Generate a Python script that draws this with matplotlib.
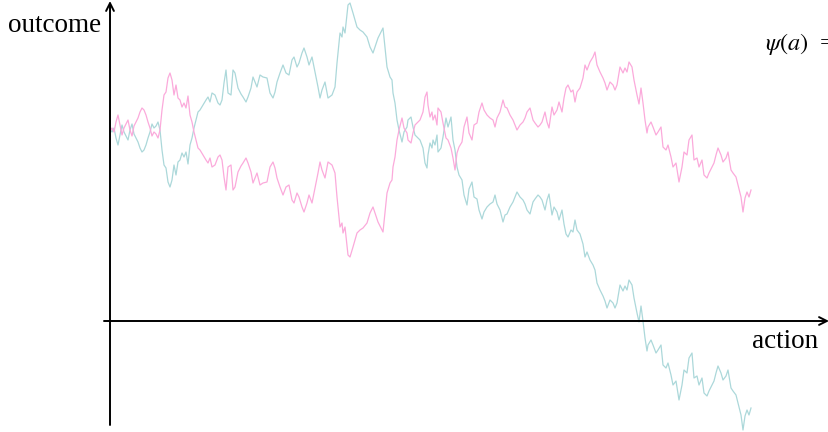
import matplotlib.pyplot as plt

plt.rcParams['font.family'] = ['Liberation Serif', 'DejaVu Serif']
plt.rcParams['mathtext.fontset'] = 'stix'

# action grid shared by both paths
action = [
    0, 2, 4, 6, 8, 10, 12, 14, 16, 18, 20, 22, 24, 26, 28, 30, 32, 34, 36, 38,
    40, 42, 44, 46, 48, 50, 52, 54, 56, 58, 60, 62, 64, 66, 68, 70, 72, 74, 76, 78,
    80, 82, 84, 86, 88, 90, 93, 96, 98, 100, 102, 105, 108, 110, 112, 114, 116, 118, 121, 123,
    125, 128, 131, 133, 136, 138, 141, 143, 147, 150, 153, 157, 160, 163, 165, 167, 170, 173, 176, 179,
    182, 184, 187, 189, 192, 194, 197, 199, 202, 205, 208, 210, 212, 215, 218, 222, 225, 227, 230, 232,
    233, 235, 238, 240, 243, 247, 250, 253, 257, 260, 263, 265, 268, 272, 273, 275, 277, 280, 282, 283,
    285, 287, 289, 292, 294, 297, 298, 301, 303, 305, 307, 310, 313, 315, 317, 318, 320, 322, 323, 325,
    327, 328, 331, 333, 336, 338, 341, 343, 345, 347, 349, 352, 354, 357, 359, 362, 364, 367, 369, 372,
    374, 377, 380, 383, 385, 387, 390, 393, 395, 397, 400, 403, 405, 407, 410, 413, 415, 417, 420, 423,
    425, 428, 430, 432, 435, 437, 439, 442, 444, 447, 449, 452, 454, 456, 458, 461, 463, 465, 467, 470,
    473, 475, 477, 480, 483, 485, 487, 490, 493, 495, 497, 500, 503, 505, 507, 510, 513, 515, 517, 519,
    522, 524, 527, 529, 531, 533, 535, 537, 538, 541, 543, 546, 548, 551, 553, 556, 558, 561, 563, 566,
    569, 572, 574, 577, 579, 582, 584, 587, 589, 592, 594, 597, 599, 602, 604, 606, 608, 611, 613, 616,
    618, 621, 623, 626, 628, 631, 633, 635, 637, 639, 641,
]

outcome_pink = [
    190, 193, 189, 199, 206, 196, 186, 193, 197, 201, 191, 185, 195, 199, 203, 209, 213, 211, 206, 199,
    193, 185, 189, 187, 183, 191, 211, 226, 229, 243, 248, 241, 226, 236, 223, 221, 214, 218, 213, 225,
    206, 199, 189, 181, 173, 171, 166, 161, 158, 163, 154, 156, 164, 166, 161, 144, 131, 154, 156, 131,
    134, 149, 155, 158, 163, 158, 149, 138, 148, 136, 138, 139, 154, 159, 153, 143, 134, 126, 134, 136,
    121, 118, 128, 124, 114, 109, 118, 126, 118, 133, 148, 159, 151, 143, 159, 156, 148, 124, 94, 98,
    88, 94, 66, 64, 74, 88, 91, 93, 98, 108, 114, 108, 99, 91, 89, 108, 128, 138, 141, 154,
    164, 181, 191, 203, 193, 188, 181, 178, 188, 196, 198, 201, 209, 224, 229, 216, 204, 209, 201, 206,
    196, 213, 209, 198, 183, 181, 173, 163, 151, 168, 174, 179, 194, 204, 188, 181, 196, 198, 209, 218,
    211, 206, 203, 201, 194, 203, 209, 221, 214, 213, 206, 201, 196, 191, 196, 199, 203, 209, 213, 201,
    198, 194, 196, 199, 209, 199, 193, 214, 206, 211, 219, 209, 223, 233, 236, 229, 231, 219, 229, 233,
    243, 256, 251, 259, 264, 269, 256, 249, 243, 238, 231, 239, 236, 231, 236, 254, 248, 253, 249, 259,
    254, 241, 226, 217, 233, 218, 201, 188, 194, 199, 194, 186, 189, 194, 174, 171, 176, 164, 154, 158,
    139, 154, 169, 166, 181, 186, 161, 163, 154, 161, 146, 143, 148, 154, 158, 166, 173, 166, 159, 163,
    169, 151, 148, 144, 136, 124, 109, 123, 129, 124, 131,
]

outcome_teal = [
    192, 189, 193, 183, 176, 186, 196, 189, 185, 181, 191, 197, 187, 183, 179, 173, 169, 171, 176, 183,
    189, 197, 193, 195, 199, 191, 171, 156, 153, 139, 134, 141, 156, 146, 159, 161, 168, 164, 169, 157,
    176, 183, 193, 201, 209, 211, 216, 221, 224, 219, 228, 226, 218, 216, 221, 238, 251, 228, 226, 251,
    248, 233, 227, 224, 219, 224, 233, 244, 234, 246, 244, 243, 228, 223, 229, 239, 248, 256, 248, 246,
    261, 264, 254, 258, 268, 273, 264, 256, 264, 249, 234, 223, 231, 239, 223, 226, 234, 258, 288, 284,
    294, 288, 316, 318, 308, 294, 291, 289, 284, 274, 268, 274, 283, 291, 293, 274, 254, 244, 241, 228,
    218, 201, 191, 179, 189, 194, 201, 204, 194, 186, 184, 181, 173, 158, 153, 166, 178, 173, 181, 176,
    186, 169, 173, 184, 203, 194, 204, 181, 171, 154, 146, 141, 126, 116, 132, 139, 124, 122, 111, 102,
    109, 114, 117, 119, 126, 117, 111, 99, 106, 107, 114, 119, 124, 129, 124, 121, 117, 111, 107, 119,
    122, 126, 124, 121, 111, 121, 127, 106, 114, 109, 101, 111, 97, 87, 84, 91, 89, 101, 91, 87,
    77, 64, 69, 61, 56, 51, 38, 31, 25, 20, 13, 21, 18, 13, 18, 36, 30, 35, 31, 41,
    36, 23, 8, -1, 15, 0, -17, -30, -24, -19, -24, -32, -29, -24, -44, -47, -42, -54, -64, -60,
    -79, -64, -49, -52, -37, -32, -57, -55, -64, -57, -72, -75, -70, -64, -60, -52, -45, -52, -59, -55,
    -49, -67, -70, -74, -82, -94, -109, -95, -89, -94, -87,
]

fig = plt.figure(figsize=(8.29, 4.32), dpi=100)
ax = fig.add_axes([0, 0, 1, 1])
ax.set_xlim(-110, 719)
ax.set_ylim(-111, 321)
ax.axis('off')

ax.plot(action, outcome_teal, color='#acd8da', lw=0.9)
ax.plot(action, outcome_pink, color='#fbaadb', lw=0.9)

# axes with arrow heads
arrow = dict(arrowstyle='->', lw=1.4, color='black', mutation_scale=14, shrinkA=0, shrinkB=0)
ax.annotate('', xy=(719, 0), xytext=(-6, 0), arrowprops=arrow)
ax.annotate('', xy=(0, 320), xytext=(0, -104), arrowprops=arrow)

ax.text(-9, 296, 'outcome', fontsize=19.5, ha='right', va='center')
ax.text(642, -20, 'action', fontsize=19.5, ha='left', va='center')
ax.text(655, 277, r'$\psi(a)$  =', fontsize=17.5, ha='left', va='center')

fig.savefig('out.png', dpi=100)
